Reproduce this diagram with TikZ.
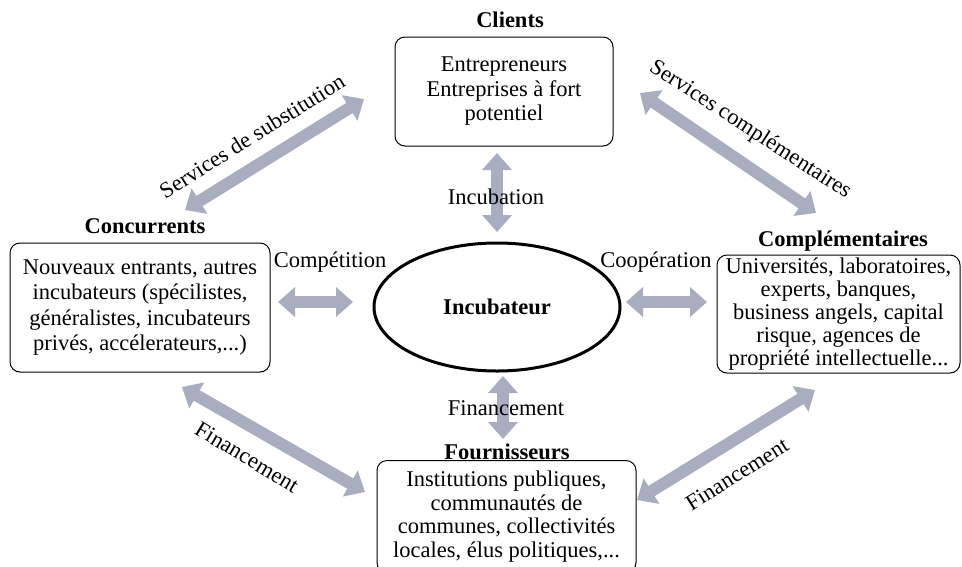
\documentclass[tikz,border=0pt]{standalone}
\usepackage{fontspec}
\setmainfont{Liberation Serif}
\usetikzlibrary{arrows.meta,shapes.geometric}
\definecolor{arrowgray}{HTML}{A8AEC0}
\tikzset{
  fat/.style={draw=arrowgray, line width=12pt, {Triangle[width=29pt,length=17pt]}-{Triangle[width=29pt,length=17pt]}},
  box/.style={draw, rounded corners=10pt, line width=1pt, align=center, inner sep=2pt},
  title/.style={font=\fontsize{22.5}{24}\selectfont\bfseries},
  lbl/.style={font=\fontsize{22.5}{24}\selectfont, inner sep=0pt},
  txt/.style={font=\fontsize{22.5}{24.5}\selectfont}
}
\begin{document}
\begin{tikzpicture}[x=1pt,y=-1pt]
\useasboundingbox (0,0) rectangle (962,566);
% boxes
\node[box, txt, minimum width=218pt, minimum height=109pt] (cli) at (504,91.5) {Entrepreneurs\\Entreprises à fort\\potentiel};
\node[box, txt, font=\fontsize{22.5}{25.3}\selectfont, minimum width=260pt, minimum height=129pt] (con) at (140,307.5) {Nouveaux entrants, autres\\incubateurs (spécilistes,\\généralistes, incubateurs\\privés, accélerateurs,...)};
\node[box, txt, font=\fontsize{22.5}{23}\selectfont, minimum width=243pt, minimum height=118pt, inner sep=0pt] (com) at (838.5,314) {Universités, laboratoires,\\experts, banques,\\business angels, capital\\risque, agences de\\propriété intellectuelle...};
\node[box, txt, font=\fontsize{22.5}{23.7}\selectfont, minimum width=259pt, minimum height=112pt, anchor=north] (fou) at (506.5,460) {Institutions publiques,\\communautés de\\communes, collectivités\\locales, élus politiques,...};
\node[draw, ellipse, line width=3pt, minimum width=246pt, minimum height=128pt, title] (inc) at (497,307) {Incubateur};
% titles
\node[title] (tcli) at (510,20) {Clients};
\node[title] (tcon) at (145,226) {Concurrents};
\node[title] (tcom) at (843,241) {Complémentaires};
\node[title] (tfou) at (507,452) {Fournisseurs};
% arrow endpoints
\coordinate (a1) at (185,210); \coordinate (a2) at (364,99);
\coordinate (b1) at (640,93); \coordinate (b2) at (816,213);
\coordinate (c1) at (182,387); \coordinate (c2) at (365,492);
\coordinate (d1) at (637,500); \coordinate (d2) at (815,390);
\coordinate (e1) at (497,153); \coordinate (e2) at (497,232);
\coordinate (f1) at (503,376); \coordinate (f2) at (503,439);
\coordinate (g1) at (278,302); \coordinate (g2) at (353,302);
\coordinate (h1) at (626,302); \coordinate (h2) at (707,302);
\draw[fat] (a1) -- (a2);
\draw[fat] (b1) -- (b2);
\draw[fat] (c1) -- (c2);
\draw[fat] (d1) -- (d2);
\draw[fat] (e1) -- (e2);
\draw[fat] (f1) -- (f2);
\draw[fat] (g1) -- (g2);
\draw[fat] (h1) -- (h2);
% labels
\node[lbl, rotate=32] (la) at (252,136) {Services de substitution};
\node[lbl, rotate=-33] (lb) at (750,130) {Services complémentaires};
\node[lbl, rotate=-31] (lc) at (247,457) {Financement};
\node[lbl, rotate=32] (ld) at (737,474) {Financement};
\node[lbl] (le) at (496,197) {Incubation};
\node[lbl] (lf) at (506,408) {Financement};
\node[lbl] (lg) at (330,262) {Compétition};
\node[lbl] (lh) at (656,262) {Coopération};
\end{tikzpicture}
\end{document}
